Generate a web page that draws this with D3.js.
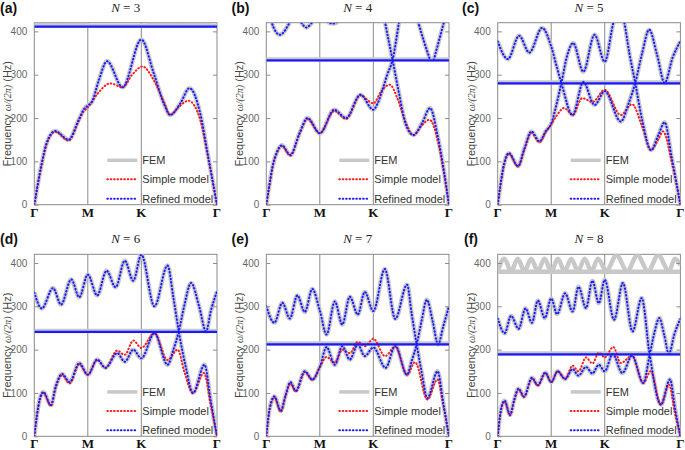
<!DOCTYPE html>
<html><head><meta charset="utf-8">
<script src="https://cdn.jsdelivr.net/npm/d3@7"></script>
<style>body{margin:0;background:#fff}svg{display:block}</style>
</head><body>
<script>
// ---------- tick data ----------
const yTicks = [0, 100, 200, 300, 400];
const xTickLabels = ['Γ', 'M', 'K', 'Γ'];
const xTickPos = [0, 1, 2, 2 + Math.SQRT2];
const panelLetters = ['(a)', '(b)', '(c)', '(d)', '(e)', '(f)'];
const supercellN = [3, 4, 5, 6, 7, 8];
const flatBandHz = [411, 333, 280, 241, 212, 189];
const legendLabels = ['FEM', 'Simple model', 'Refined model'];

// ---------- band data: [path coordinate, frequency Hz] ----------
// (a) N = 3
const aBlue1 = [[0,0],[0.057,42],[0.14,96],[0.23,142],[0.39,170],[0.64,150],[0.83,196],[0.92,219],[1,229],[1.08,238],[1.2,285],[1.36,331],[1.65,271],[2,381],[2.23,304],[2.42,234],[2.54,207],[2.73,234],[2.9,269],[3.1,211],[3.25,111],[3.414,0]];
const aRed1 = [[0,0],[0.057,40],[0.14,93],[0.23,140],[0.39,168],[0.64,148],[0.83,193],[0.92,215],[1,224],[1.17,254],[1.42,280],[1.65,271],[1.83,300],[2.02,319],[2.23,288],[2.42,238],[2.54,208],[2.72,228],[2.88,240],[3.1,196],[3.25,107],[3.414,0]];
const aFem1 = [[0,422],[0.2,419],[0.5,416],[0.8,419],[1.0,422]];
const aFem2 = [[2.1,422],[2.4,418],[2.75,416],[3.1,418],[3.3,422]];

// (b) N = 4
const bBlue1 = [[0,0],[0.05,40],[0.12,90],[0.2,122],[0.29,137],[0.45,115],[0.62,165],[0.77,200],[1,165],[1.27,219],[1.49,200],[1.76,254],[2,219],[2.08,234],[2.17,265],[2.26,300],[2.36,334],[2.48,421],[2.55,470]];
const bBlue2 = [[2.15,470],[2.22,421],[2.36,334],[2.48,257],[2.6,188],[2.75,161],[2.91,188],[3.06,223],[3.2,160],[3.32,78],[3.414,0]];
const bBlue3 = [[0,470],[0.1,421],[0.255,392],[0.44,421],[0.55,445],[0.65,421],[0.75,409],[0.86,421],[1.05,445],[1.16,421],[1.24,418],[1.32,421],[1.5,450]];
const bBlue4 = [[2.82,430],[2.84,421],[3.06,334]];
const bBlue5 = [[3.13,334],[3.32,421],[3.34,430]];
const bRed1 = [[0,0],[0.05,38],[0.12,88],[0.2,120],[0.29,135],[0.45,113],[0.62,163],[0.77,197],[1,165],[1.27,216],[1.49,198],[1.76,252],[2,234],[2.15,262],[2.31,277],[2.45,245],[2.6,192],[2.75,160],[2.9,182],[3.05,196],[3.2,150],[3.32,72],[3.414,0]];

// (c) N = 5
const cBlue1 = [[0,0],[0.05,45],[0.12,95],[0.21,119],[0.38,89],[0.5,130],[0.63,169],[0.78,146],[0.9,170],[1,187],[1.1,232],[1.19,281],[1.3,345],[1.41,373],[1.6,307],[1.81,392],[2,330],[2.17,423],[2.27,445],[2.36,423],[2.46,350],[2.57,281],[2.7,195],[2.865,126],[3.0,160],[3.12,190],[3.25,110],[3.414,0]];
const cBlue2 = [[0,377],[0.19,336],[0.4,390],[0.59,351],[0.83,408],[1,365],[1.1,320],[1.19,281],[1.4,207],[1.6,283],[1.81,230],[2,262],[2.3,192],[2.45,235],[2.57,281],[2.7,350],[2.83,404],[2.98,345],[3.12,281],[3.27,340],[3.414,377]];
const cRed1 = [[0,0],[0.05,43],[0.12,92],[0.21,117],[0.38,88],[0.5,128],[0.63,166],[0.78,144],[0.9,168],[1,185],[1.1,205],[1.24,223],[1.4,207],[1.58,246],[1.77,237],[2,265],[2.3,207],[2.51,232],[2.7,180],[2.865,126],[3.0,150],[3.09,169],[3.25,100],[3.414,0]];

// (d) N = 6
const dBlue1 = [[0,0],[0.05,50],[0.1,85],[0.17,102],[0.31,72],[0.4,115],[0.52,144],[0.66,125],[0.84,169],[1,142],[1.175,177],[1.33,158],[1.55,192],[1.69,172],[1.85,200],[2,180],[2.245,238],[2.49,165],[2.6,200],[2.7,242],[2.8,300],[2.93,354],[3.08,300],[3.21,242],[3.3,290],[3.414,334]];
const dBlue2 = [[0,332],[0.14,295],[0.35,342],[0.5,304],[0.69,362],[0.84,321],[1,373],[1.175,325],[1.35,382],[1.52,344],[1.69,405],[1.85,359],[2,419],[2.245,300],[2.49,394],[2.6,320],[2.7,242],[2.83,160],[2.965,100],[3.18,165],[3.3,80],[3.414,0]];
const dRed1 = [[0,0],[0.05,48],[0.1,82],[0.17,100],[0.31,70],[0.4,112],[0.52,141],[0.66,122],[0.84,166],[1,142],[1.175,176],[1.33,158],[1.55,198],[1.69,188],[1.85,221],[2,204],[2.245,238],[2.49,176],[2.68,200],[2.8,150],[2.965,100],[3.17,146],[3.3,70],[3.414,0]];

// (e) N = 7
const eBlue1 = [[0,0],[0.05,55],[0.1,82],[0.15,92],[0.27,59],[0.36,95],[0.45,125],[0.55,105],[0.72,150],[0.86,131],[1,160],[1.126,206],[1.28,165],[1.42,208],[1.56,177],[1.71,212],[1.84,185],[2,205],[2.23,158],[2.41,209],[2.63,142],[2.72,175],[2.81,212],[2.9,265],[3.0,315],[3.11,265],[3.21,212],[3.31,255],[3.414,300]];
const eBlue2 = [[0,300],[0.15,262],[0.3,308],[0.44,272],[0.58,325],[0.72,287],[0.86,340],[1,290],[1.126,235],[1.28,311],[1.42,258],[1.56,322],[1.71,281],[1.84,333],[2,289],[2.215,386],[2.41,271],[2.63,350],[2.72,280],[2.81,212],[2.9,150],[3.01,88],[3.2,150],[3.31,75],[3.414,0]];
const eRed1 = [[0,0],[0.05,53],[0.1,80],[0.15,90],[0.27,56],[0.36,92],[0.45,122],[0.55,103],[0.72,148],[0.86,130],[1,160],[1.126,183],[1.28,170],[1.42,200],[1.56,192],[1.71,218],[1.84,208],[2,225],[2.22,185],[2.41,207],[2.63,142],[2.78,171],[3.01,85],[3.2,131],[3.31,70],[3.414,0]];

// (f) N = 8
const fBlue1 = [[0,0],[0.04,45],[0.08,72],[0.13,82],[0.23,50],[0.31,85],[0.39,110],[0.49,92],[0.64,135],[0.75,118],[0.89,147],[1,125],[1.12,150],[1.26,132],[1.4,155],[1.51,140],[1.65,160],[1.77,145],[1.89,165],[2,150],[2.15,190],[2.33,146],[2.51,186],[2.72,123],[2.84,188],[2.93,240],[3.02,273],[3.11,235],[3.2,190],[3.3,235],[3.414,271]];
const fBlue2 = [[0,272],[0.13,238],[0.25,278],[0.39,248],[0.52,295],[0.64,262],[0.75,313],[0.88,273],[1,318],[1.11,282],[1.26,330],[1.4,288],[1.51,345],[1.65,296],[1.77,359],[1.89,307],[2,361],[2.175,269],[2.34,354],[2.52,242],[2.69,319],[2.84,188],[3.05,73],[3.22,131],[3.32,60],[3.414,0]];
const fRed1 = [[0,0],[0.04,43],[0.08,70],[0.13,80],[0.23,48],[0.31,83],[0.39,108],[0.49,90],[0.64,133],[0.75,117],[0.89,146],[1,125],[1.12,150],[1.26,133],[1.4,163],[1.51,150],[1.65,182],[1.77,168],[1.89,193],[2,182],[2.16,206],[2.3,169],[2.51,186],[2.72,123],[2.86,150],[3.05,73],[3.2,119],[3.31,55],[3.414,0]];
const fFem1 = [[0,381],[0.125,410],[0.25,381],[0.375,410],[0.5,381],[0.625,410],[0.75,381],[0.875,410],[1,381],[1.125,410],[1.25,381],[1.375,410],[1.5,381],[1.625,410],[1.75,381],[1.875,410],[2.03,381],[2.22,418],[2.42,381],[2.61,418],[2.81,381],[3.0,418],[3.2,381],[3.31,410],[3.414,395]];
const fFem2 = [[0,380],[3.414,380]];

// ---------- panel table (built from the arrays above) ----------
const panelBlue = [[aBlue1],[bBlue1,bBlue2,bBlue3,bBlue4,bBlue5],[cBlue1,cBlue2],[dBlue1,dBlue2],[eBlue1,eBlue2],[fBlue1,fBlue2]];
const panelRed = [[aRed1],[bRed1],[cRed1],[dRed1],[eRed1],[fRed1]];
const panelFemOnly = [[aFem1,aFem2],[],[],[],[],[fFem1,fFem2]];

// ---------- layout ----------
const W = 685, H = 450;
const colLeft = [34.3, 266.3, 497.7];
const rowTop = [22.7, 254.3];
const pw = 182.7, ph = 182;
const letterPos = [[0,12.5],[231.5,12.5],[462,12.5],[0,243.5],[231.5,243.5],[464,243.5]];

const BLUE = '#1a1aff', RED = '#ff1a1a', GREY = '#c8c8c8', AX = '#8a8a8a';

const svg = d3.select('body').append('svg').attr('width', W).attr('height', H)
  .style('font-family', '"Liberation Sans", Arial, sans-serif');

const defs = svg.append('defs');

for (let i = 0; i < 6; i++) {
  const left = colLeft[i % 3], top = rowTop[Math.floor(i / 3)];
  const x = d3.scaleLinear().domain([0, 2 + Math.SQRT2]).range([left, left + pw]);
  const y = d3.scaleLinear().domain([0, 420]).range([top + ph, top]);
  const line = d3.line().x(d => x(d[0])).y(d => y(d[1])).curve(d3.curveMonotoneX);
  const g = svg.append('g');
  const clipId = 'clip' + i;
  defs.append('clipPath').attr('id', clipId).append('rect')
    .attr('x', left).attr('y', top).attr('width', pw).attr('height', ph);

  // frame + symmetry lines
  g.append('rect').attr('x', left).attr('y', top).attr('width', pw).attr('height', ph)
    .attr('fill', 'none').attr('stroke', AX).attr('stroke-width', 1);
  [1, 2].forEach(t => g.append('line').attr('x1', x(xTickPos[t])).attr('x2', x(xTickPos[t]))
    .attr('y1', top).attr('y2', top + ph).attr('stroke', AX).attr('stroke-width', 1));

  const plot = g.append('g').attr('clip-path', `url(#${clipId})`);
  const flat = flatBandHz[i];
  const flatLine = [[0, flat], [2 + Math.SQRT2, flat]];
  const flatFem = [[0, flat + 2], [2 + Math.SQRT2, flat + 2]];

  // FEM (grey, thick)
  const fem = [...panelBlue[i], ...panelFemOnly[i], flatFem];
  plot.selectAll('path.fem').data(fem).join('path').attr('class', 'fem')
    .attr('d', line).attr('fill', 'none').attr('stroke', GREY).attr('stroke-width', 4.5);
  // simple model (red dots)
  plot.selectAll('path.red').data(panelRed[i]).join('path').attr('class', 'red')
    .attr('d', line).attr('fill', 'none').attr('stroke', RED).attr('stroke-width', 2)
    .attr('stroke-dasharray', '0.6 2.8').attr('stroke-linecap', 'round');
  // refined model (blue dots)
  plot.selectAll('path.blue').data(panelBlue[i]).join('path').attr('class', 'blue')
    .attr('d', line).attr('fill', 'none').attr('stroke', BLUE).attr('stroke-width', 2)
    .attr('stroke-dasharray', '0.6 2.8').attr('stroke-linecap', 'round');
  // flat band (dense blue dots -> solid)
  plot.append('path').datum(flatLine).attr('d', line).attr('fill', 'none')
    .attr('stroke', BLUE).attr('stroke-width', 2.2);

  // y axes (inner ticks both sides)
  const ya = g.append('g').attr('transform', `translate(${left},0)`)
    .call(d3.axisLeft(y).tickValues(yTicks).tickSize(-4).tickPadding(7));
  ya.select('.domain').remove();
  ya.selectAll('line').attr('stroke', AX);
  ya.selectAll('text').attr('fill', '#666').style('font-size', '10px')
    .style('font-family', '"Liberation Sans", Arial, sans-serif');
  const yr = g.append('g').attr('transform', `translate(${left + pw},0)`)
    .call(d3.axisRight(y).tickValues(yTicks).tickSize(-4).tickFormat(''));
  yr.select('.domain').remove();
  yr.selectAll('line').attr('stroke', AX);

  // x labels
  g.selectAll('text.xl').data(xTickPos).join('text').attr('class', 'xl')
    .attr('x', d => x(d)).attr('y', top + ph + 12).attr('text-anchor', 'middle')
    .style('font-family', '"Liberation Serif", "Times New Roman", serif')
    .style('font-weight', 'bold').style('font-size', '13px').attr('fill', '#111')
    .text((d, k) => xTickLabels[k]);

  // y label
  const yl = g.append('text').attr('transform', `translate(${left - 23},${top + ph / 2}) rotate(-90)`)
    .attr('text-anchor', 'middle').attr('fill', '#444').style('font-size', '11px');
  yl.append('tspan').text('Frequency ');
  yl.append('tspan').style('font-family', '"Liberation Serif", serif').style('font-style', 'italic')
    .style('font-size', '10px').text('ω/(2π)');
  yl.append('tspan').text(' (Hz)');

  // title
  const tt = g.append('text').attr('x', left + pw / 2).attr('y', top - 11).attr('text-anchor', 'middle')
    .style('font-family', '"Liberation Serif", "Times New Roman", serif').style('font-size', '13px').attr('fill', '#222');
  tt.append('tspan').style('font-style', 'italic').text('N');
  tt.append('tspan').text(' = ' + supercellN[i]);

  // panel letter
  svg.append('text').attr('x', letterPos[i][0]).attr('y', letterPos[i][1])
    .style('font-weight', 'bold').style('font-size', '14px').attr('fill', '#111').text(panelLetters[i]);

  // legend
  const lg = g.append('g');
  const ly = [137.6, 156.6, 176];
  const lx0 = left + 73, lx1 = left + 103;
  lg.append('line').attr('x1', lx0).attr('x2', lx1).attr('y1', top + ly[0]).attr('y2', top + ly[0])
    .attr('stroke', GREY).attr('stroke-width', 3.5);
  lg.append('line').attr('x1', lx0).attr('x2', lx1).attr('y1', top + ly[1]).attr('y2', top + ly[1])
    .attr('stroke', RED).attr('stroke-width', 2).attr('stroke-dasharray', '0.6 2.8').attr('stroke-linecap', 'round');
  lg.append('line').attr('x1', lx0).attr('x2', lx1).attr('y1', top + ly[2]).attr('y2', top + ly[2])
    .attr('stroke', BLUE).attr('stroke-width', 2).attr('stroke-dasharray', '0.6 2.8').attr('stroke-linecap', 'round');
  lg.selectAll('text').data(legendLabels).join('text')
    .attr('x', left + 108).attr('y', (d, k) => top + ly[k] + 4)
    .style('font-size', '11px').attr('fill', '#333').text(d => d);
}
</script>
</body></html>
